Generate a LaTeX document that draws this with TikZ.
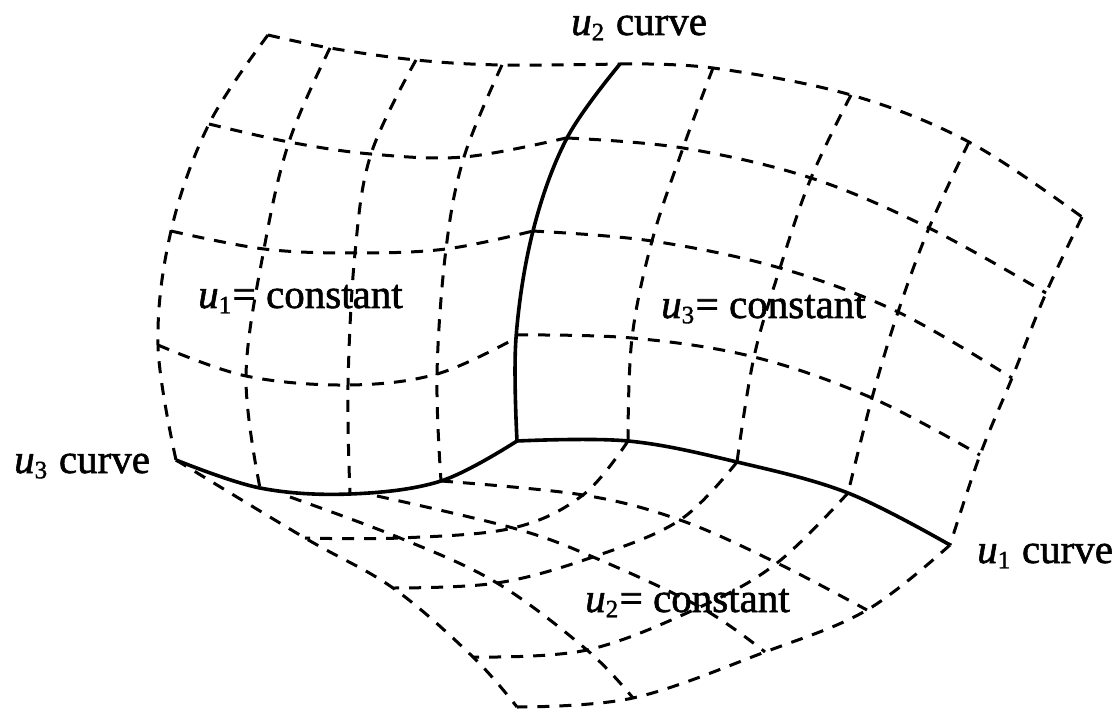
\documentclass[tikz,border=0pt]{standalone}
\usepackage{fontspec}
\setmainfont[ItalicFont={Liberation Serif Italic},ItalicFeatures={FakeBold=1.4},UprightFeatures={FakeBold=1.4}]{Liberation Serif}
\newcommand{\usub}[1]{\textit{u}\raisebox{-0.28ex}{\fontsize{25}{27}\selectfont #1}\hspace{1.5pt}}
\tikzset{
  gridline/.style={line width=3pt,dash pattern=on 12pt off 10pt,smooth,tension=0.6},
  curveline/.style={line width=3.6pt,smooth,tension=0.6},
  curvelabel/.style={anchor=base west,inner sep=0pt,font=\fontsize{41}{44}\selectfont}
}
\begin{document}
\begin{tikzpicture}[x=1pt,y=-1pt]
\useasboundingbox (0,0) rectangle (1117,711);
% left face, rows
\draw[gridline] plot coordinates {(268,35) (330,48) (416,60) (502,65) (620,64)};
\draw[gridline] plot coordinates {(209,124) (289,142) (371,154) (464,157) (566,138)};
\draw[gridline] plot coordinates {(171,231) (264,249) (355,253) (446,249) (533,231)};
\draw[gridline] plot coordinates {(158,345) (246,376) (348,385) (437,374) (516,338)};
% left face, columns
\draw[gridline] plot coordinates {(268,35) (209,124) (171,231) (158,345) (176,460)};
\draw[gridline] plot coordinates {(330,48) (289,142) (264,249) (246,376) (260,488)};
\draw[gridline] plot coordinates {(416,60) (371,154) (355,253) (348,385) (350,494)};
\draw[gridline] plot coordinates {(502,65) (464,157) (446,249) (437,374) (441,481)};
% right face, rows
\draw[gridline] plot coordinates {(620,64) (713,68) (851,95) (969,142) (1082,217)};
\draw[gridline] plot coordinates {(567,138) (683,148) (811,178) (929,228) (1046,293)};
\draw[gridline] plot coordinates {(532,231) (652,241) (780,268) (898,312) (1012,378)};
\draw[gridline] plot coordinates {(516,335) (632,338) (754,357) (872,398) (980,455)};
% right face, columns
\draw[gridline] plot coordinates {(713,68) (683,148) (652,241) (632,338) (628,441)};
\draw[gridline] plot coordinates {(851,95) (811,178) (780,268) (754,357) (737,462)};
\draw[gridline] plot coordinates {(969,142) (929,228) (898,312) (872,398) (848,493)};
\draw[gridline] plot coordinates {(1082,217) (1046,293) (1012,378) (980,455) (950,545)};
% bottom face, u3 direction
\draw[gridline] plot coordinates {(176,460) (305,538) (393,588) (473,657) (517,707)};
\draw[gridline] plot coordinates {(290,497) (400,538) (497,583) (587,650) (633,698)};
\draw[gridline] plot coordinates {(377,496) (513,528) (593,557) (700,607) (765,652)};
\draw[gridline] plot coordinates {(441,481) (583,495) (680,520) (777,563) (867,610)};
% bottom face, u1 direction
\draw[gridline] plot coordinates {(628,441) (583,495) (513,528) (400,538) (305,538)};
\draw[gridline] plot coordinates {(737,462) (680,520) (593,557) (497,583) (393,588)};
\draw[gridline] plot coordinates {(848,493) (777,563) (700,607) (587,650) (473,657)};
\draw[gridline] plot coordinates {(950,545) (867,610) (765,652) (633,698) (517,707)};
% the three solid curves
\draw[curveline] plot coordinates {(620,64) (567,138) (533,231) (516,338) (517,441)};
\draw[curveline] plot coordinates {(176,460) (260,488) (350,494) (441,481) (517,441)};
\draw[curveline] plot coordinates {(517,441) (628,441) (737,462) (848,493) (950,545)};
% labels
\node[curvelabel] (utwocurve) at (571,35) {\usub{2} curve};
\node[curvelabel] (uonecurve) at (977,563) {\usub{1} curve};
\node[curvelabel] (uthreecurve) at (14,473) {\usub{3} curve};
\node[curvelabel] (uoneconst) at (198,308) {\usub{1}= constant};
\node[curvelabel] (uthreeconst) at (661,318) {\usub{3}= constant};
\node[curvelabel] (utwoconst) at (585,612) {\usub{2}= constant};
\end{tikzpicture}
\end{document}
